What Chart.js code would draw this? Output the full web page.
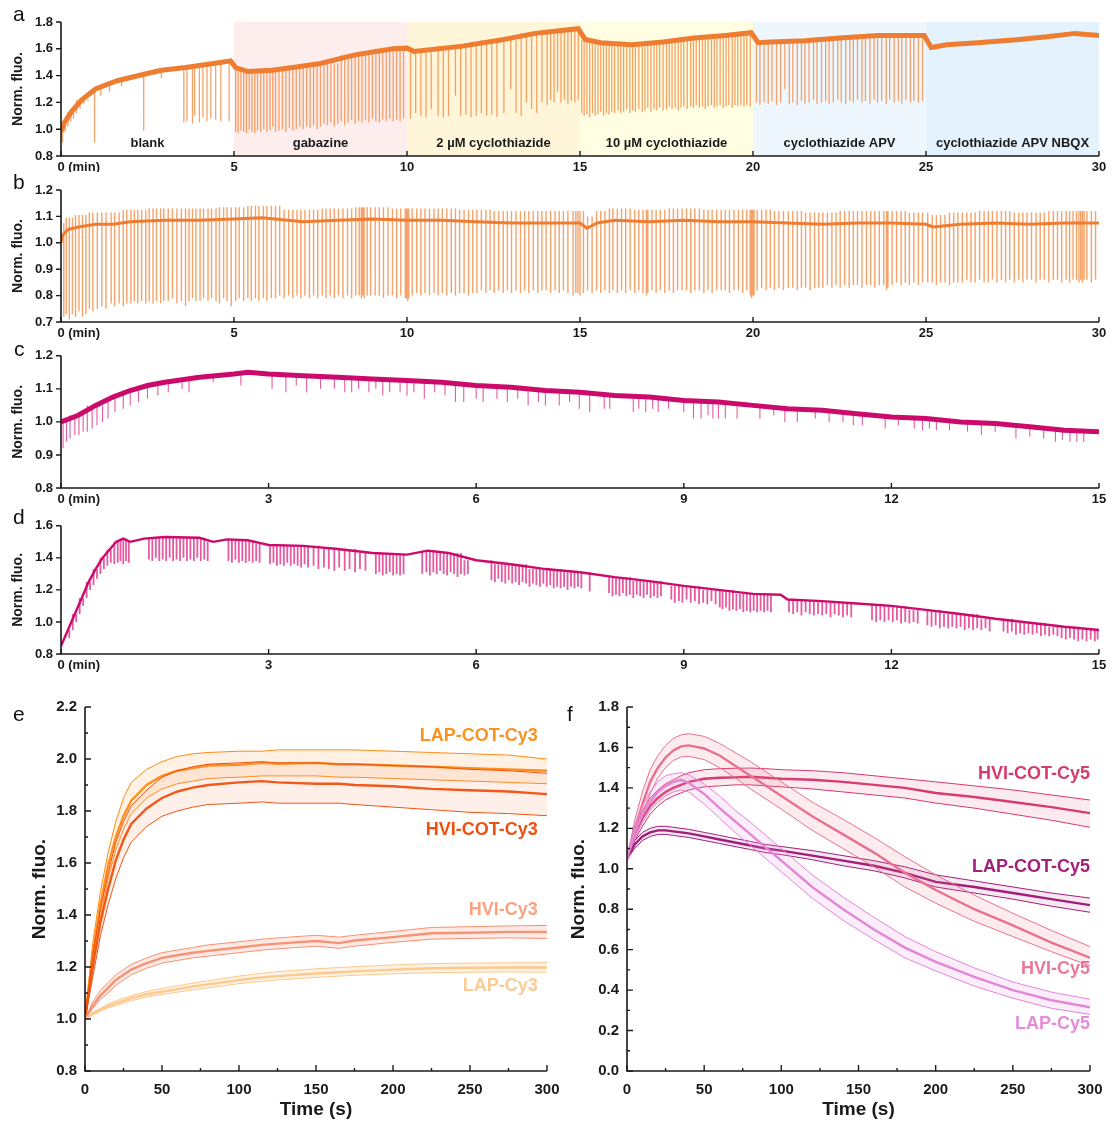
<!DOCTYPE html>
<html>
<head>
<meta charset="utf-8">
<script src="https://cdn.jsdelivr.net/npm/chart.js@4.4.0/dist/chart.umd.min.js"></script>
<style>
  body { margin: 0; background: #fff; width: 1113px; height: 1124px; position: relative; overflow: hidden;
         font-family: "Liberation Sans", Arial, sans-serif; }
  canvas { position: absolute; }
  .tag { position: absolute; font-size: 21px; color: #111; line-height: 1; }
</style>
</head>
<body>
<canvas id="ca" width="1113" height="172" style="left:0;top:0"></canvas>
<canvas id="cb" width="1113" height="172" style="left:0;top:172px"></canvas>
<canvas id="cc" width="1113" height="170" style="left:0;top:340px"></canvas>
<canvas id="cd" width="1113" height="172" style="left:0;top:510px"></canvas>
<canvas id="ce" width="575" height="434" style="left:0;top:690px"></canvas>
<canvas id="cf" width="568" height="434" style="left:545px;top:690px"></canvas>
<div class="tag" style="left:13px;top:3px">a</div>
<div class="tag" style="left:13px;top:171px">b</div>
<div class="tag" style="left:14px;top:338px">c</div>
<div class="tag" style="left:13px;top:506px">d</div>
<div class="tag" style="left:13px;top:703px">e</div>
<div class="tag" style="left:567px;top:703px">f</div>
<script>
// ── panel a: 30 min recording with drug phases ──
const aBaseT = [0, 0.1, 0.3, 0.6, 1, 1.6, 2.4, 2.9, 3.6, 4.4, 4.9, 5.05, 5.4, 6.1, 6.7, 7.5, 8.5, 9.6, 10, 10.2, 11.6, 12.7, 13.7, 14.4, 14.95, 15.15, 15.6, 16.5, 17.4, 18.3, 19.2, 19.95, 20.15, 20.5, 21.5, 22.5, 23.6, 24.3, 24.95, 25.15, 25.6, 26.5, 27.7, 28.5, 29.3, 30];
const aBaseY = [0.98, 1.05, 1.13, 1.22, 1.30, 1.36, 1.41, 1.44, 1.46, 1.49, 1.51, 1.46, 1.43, 1.44, 1.46, 1.49, 1.555, 1.60, 1.605, 1.58, 1.62, 1.665, 1.715, 1.735, 1.75, 1.67, 1.645, 1.63, 1.65, 1.68, 1.70, 1.72, 1.645, 1.65, 1.66, 1.68, 1.70, 1.70, 1.70, 1.61, 1.63, 1.645, 1.67, 1.69, 1.715, 1.70];
const aSpikes = [
  [0.04,0.90],[0.12,0.98],[0.2,1.02],[0.28,1.06],[0.36,1.08],[0.45,1.12],[0.55,1.15],[0.66,1.19],[0.78,1.21],[0.97,0.90],
  [1.15,1.25],[1.4,1.28],[1.75,1.32],[2.39,0.99],[2.9,1.38],[3.55,1.05],[3.64,1.06],[3.8,1.04],[3.86,1.10],[4.0,1.05],
  [4.1,1.09],[4.22,1.06],[4.33,1.08],[4.47,1.07],[4.62,1.06],[4.86,1.06],
  [5.05,0.98],[5.12,0.97],[5.2,0.99],[5.28,0.98],[5.36,0.97],[5.44,1.0],[5.52,0.98],[5.6,0.97],[5.68,0.99],[5.77,0.98],
  [5.86,1.0],[5.95,0.98],[6.04,0.99],[6.12,1.02],[6.2,0.98],[6.3,0.99],[6.4,1.0],[6.5,0.98],[6.6,1.01],[6.7,0.99],
  [6.8,1.0],[6.9,1.02],[7.0,1.0],[7.1,1.02],[7.2,1.01],[7.3,1.03],[7.4,1.0],[7.5,1.02],[7.6,1.04],[7.7,1.03],
  [7.8,1.05],[7.9,1.02],[8.0,1.04],[8.1,1.06],[8.2,1.03],[8.3,1.05],[8.4,1.07],[8.5,1.04],[8.6,1.06],[8.7,1.05],
  [8.8,1.07],[8.9,1.05],[9.0,1.08],[9.1,1.06],[9.2,1.05],[9.3,1.07],[9.4,1.06],[9.5,1.08],[9.6,1.06],[9.7,1.07],
  [9.8,1.06],[9.9,1.08],
  [10.1,1.08],[10.25,1.12],[10.4,1.10],[10.55,1.09],[10.7,1.15],[10.9,1.10],[11.05,1.09],[11.2,1.10],[11.4,1.25],[11.55,1.10],
  [11.7,1.11],[11.85,1.09],[12.0,1.10],[12.15,1.12],[12.3,1.10],[12.45,1.11],[12.6,1.09],[12.8,1.12],[13.0,1.30],[13.15,1.12],
  [13.3,1.10],[13.45,1.20],[13.6,1.15],[13.75,1.12],[13.9,1.20],[14.05,1.18],[14.15,1.22],[14.25,1.20],[14.35,1.28],[14.45,1.20],
  [14.55,1.22],[14.65,1.19],[14.75,1.21],[14.85,1.20],[14.95,1.22],
  [15.05,1.12],[15.12,1.10],[15.2,1.11],[15.28,1.09],[15.36,1.12],[15.44,1.10],[15.52,1.11],[15.6,1.13],[15.68,1.10],[15.76,1.12],
  [15.84,1.11],[15.92,1.13],[16.0,1.12],[16.1,1.14],[16.18,1.12],[16.26,1.13],[16.35,1.15],[16.44,1.12],[16.52,1.14],[16.6,1.13],
  [16.7,1.15],[16.8,1.13],[16.88,1.14],[16.96,1.16],[17.05,1.13],[17.14,1.15],[17.22,1.14],[17.3,1.16],[17.4,1.14],[17.5,1.15],
  [17.58,1.17],[17.66,1.15],[17.75,1.16],[17.84,1.14],[17.92,1.16],[18.0,1.17],[18.1,1.15],[18.2,1.17],[18.28,1.16],[18.36,1.18],
  [18.45,1.16],[18.54,1.17],[18.62,1.15],[18.7,1.17],[18.8,1.18],[18.88,1.16],[18.96,1.17],[19.05,1.18],[19.14,1.16],[19.22,1.17],
  [19.3,1.18],[19.4,1.16],[19.48,1.18],[19.56,1.17],[19.65,1.18],[19.74,1.17],[19.82,1.18],[19.92,1.17],
  [20.1,1.20],[20.2,1.18],[20.32,1.20],[20.44,1.19],[20.55,1.21],[20.68,1.18],[20.8,1.20],[20.92,1.30],[21.05,1.19],[21.15,1.20],
  [21.28,1.18],[21.4,1.21],[21.5,1.19],[21.62,1.20],[21.75,1.22],[21.85,1.19],[21.98,1.20],[22.1,1.21],[22.2,1.19],[22.32,1.20],
  [22.45,1.22],[22.55,1.20],[22.68,1.19],[22.8,1.21],[22.9,1.20],[23.02,1.22],[23.15,1.20],[23.25,1.21],[23.38,1.19],[23.5,1.22],
  [23.6,1.20],[23.72,1.21],[23.85,1.19],[23.95,1.22],[24.08,1.20],[24.2,1.21],[24.3,1.19],[24.42,1.22],[24.55,1.20],[24.65,1.21],
  [24.78,1.20],[24.9,1.21]
];
const aPhaseFrom = [0, 5, 10, 15, 20, 25];
const aPhaseTo = [5, 10, 15, 20, 25, 30];
const aPhaseName = ["blank", "gabazine", "2 \u00b5M cyclothiazide", "10 \u00b5M cyclothiazide", "cyclothiazide APV", "cyclothiazide APV NBQX"];
const aPhaseFill = [null, "#fdeded", "#fff6da", "#fffde2", "#eff7fe", "#e3f2fd"];

// ── panel b ──
const bBaseT = [0, 0.05, 0.2, 0.5, 1, 1.5, 2, 3, 4, 5, 5.8, 7, 8, 9, 10, 11, 12, 13, 14, 15, 15.2, 15.5, 16, 17, 18, 19, 20, 21, 22, 23, 24, 25, 25.2, 26, 27, 28, 29, 30];
const bBaseY = [1.0, 1.03, 1.05, 1.06, 1.07, 1.07, 1.08, 1.085, 1.085, 1.09, 1.095, 1.08, 1.085, 1.09, 1.085, 1.085, 1.08, 1.075, 1.075, 1.075, 1.055, 1.075, 1.085, 1.08, 1.085, 1.08, 1.08, 1.075, 1.07, 1.075, 1.075, 1.07, 1.06, 1.07, 1.075, 1.07, 1.075, 1.075];
const bSpikes = [
  [0.08,0.72],[0.15,0.73],[0.24,0.71],[0.33,0.73],[0.42,0.72],[0.52,0.74],[0.62,0.72],[0.72,0.73],[0.82,0.75],[0.92,0.74],
  [1.05,0.75],[1.18,0.76],[1.3,0.75],[1.45,0.77],[1.55,0.76],[1.68,0.77],[1.8,0.76],[1.9,0.77],
  [2.02,0.77],[2.12,0.78],[2.22,0.77],[2.33,0.78],[2.45,0.77],[2.55,0.78],[2.66,0.77],[2.76,0.78],[2.88,0.77],[2.97,0.78],
  [3.1,0.78],[3.22,0.79],[3.35,0.77],[3.48,0.78],[3.6,0.76],[3.7,0.78],[3.8,0.79],[3.9,0.78],
  [4.02,0.78],[4.12,0.79],[4.25,0.78],[4.35,0.79],[4.48,0.78],[4.58,0.77],[4.7,0.79],[4.8,0.78],[4.92,0.76],
  [5.05,0.78],[5.15,0.79],[5.28,0.78],[5.4,0.79],[5.5,0.78],[5.62,0.79],[5.72,0.78],[5.85,0.79],[5.95,0.78],
  [6.08,0.79],[6.2,0.79],[6.32,0.80],[6.45,0.79],[6.58,0.80],[6.7,0.79],[6.82,0.80],[6.93,0.79],
  [7.05,0.80],[7.18,0.79],[7.3,0.80],[7.42,0.79],[7.55,0.80],[7.66,0.79],[7.78,0.80],[7.9,0.79],
  [8.02,0.80],[8.15,0.79],[8.28,0.80],[8.4,0.79],[8.52,0.80],[8.62,0.80],[8.68,0.79],[8.72,0.80],[8.76,0.79],[8.85,0.80],[8.95,0.80],
  [9.08,0.80],[9.2,0.80],[9.32,0.79],[9.45,0.80],[9.58,0.80],[9.7,0.79],[9.82,0.80],[9.95,0.79],[9.98,0.79],[10.02,0.78],
  [10.05,0.79],[10.15,0.80],[10.28,0.81],[10.4,0.80],[10.52,0.81],[10.65,0.80],[10.78,0.81],[10.9,0.80],
  [11.02,0.81],[11.15,0.80],[11.28,0.81],[11.4,0.80],[11.52,0.81],[11.65,0.81],[11.78,0.80],[11.9,0.81],
  [12.02,0.81],[12.15,0.82],[12.28,0.81],[12.4,0.82],[12.52,0.81],[12.65,0.82],[12.78,0.81],[12.9,0.82],
  [13.02,0.81],[13.15,0.82],[13.28,0.81],[13.4,0.82],[13.52,0.81],[13.65,0.82],[13.78,0.81],[13.9,0.82],
  [14.02,0.82],[14.15,0.81],[14.28,0.82],[14.4,0.81],[14.52,0.82],[14.65,0.81],[14.8,0.80],[14.88,0.81],[14.94,0.81],[15.0,0.80],
  [15.1,0.81],[15.22,0.82],[15.35,0.81],[15.48,0.82],[15.6,0.81],[15.72,0.82],[15.85,0.81],[15.95,0.82],
  [16.08,0.81],[16.2,0.82],[16.32,0.81],[16.45,0.82],[16.58,0.81],[16.7,0.82],[16.82,0.81],[16.92,0.80],[16.96,0.81],
  [17.08,0.82],[17.2,0.81],[17.32,0.82],[17.45,0.81],[17.58,0.82],[17.7,0.81],[17.82,0.82],[17.95,0.82],
  [18.08,0.82],[18.2,0.81],[18.32,0.82],[18.45,0.82],[18.58,0.81],[18.7,0.82],[18.82,0.81],[18.95,0.82],
  [19.08,0.82],[19.2,0.82],[19.32,0.81],[19.45,0.82],[19.58,0.82],[19.7,0.81],[19.82,0.82],[19.92,0.80],[19.96,0.79],[20.0,0.80],[20.03,0.80],
  [20.12,0.82],[20.25,0.83],[20.38,0.82],[20.5,0.83],[20.62,0.82],[20.75,0.83],[20.88,0.82],
  [21.02,0.83],[21.15,0.83],[21.28,0.82],[21.4,0.83],[21.52,0.83],[21.65,0.82],[21.78,0.83],[21.9,0.83],
  [22.02,0.83],[22.15,0.84],[22.28,0.83],[22.4,0.84],[22.52,0.83],[22.65,0.84],[22.78,0.83],[22.9,0.84],
  [23.02,0.84],[23.15,0.83],[23.28,0.84],[23.4,0.84],[23.52,0.83],[23.65,0.84],[23.78,0.84],[23.86,0.82],[23.9,0.83],
  [24.02,0.84],[24.15,0.85],[24.28,0.84],[24.4,0.85],[24.52,0.84],[24.65,0.85],[24.78,0.84],[24.9,0.85],
  [25.05,0.85],[25.18,0.85],[25.3,0.84],[25.42,0.85],[25.55,0.85],[25.68,0.84],[25.8,0.85],[25.92,0.85],
  [26.05,0.85],[26.18,0.86],[26.3,0.85],[26.42,0.85],[26.55,0.86],[26.68,0.85],[26.8,0.85],[26.92,0.86],
  [27.05,0.85],[27.18,0.86],[27.3,0.85],[27.42,0.86],[27.55,0.85],[27.68,0.86],[27.8,0.85],[27.92,0.86],
  [28.05,0.86],[28.18,0.85],[28.3,0.86],[28.42,0.86],[28.55,0.85],[28.68,0.86],[28.8,0.86],[28.92,0.85],
  [29.05,0.86],[29.15,0.85],[29.25,0.86],[29.35,0.86],[29.42,0.85],[29.47,0.86],[29.52,0.85],[29.57,0.86],[29.65,0.86],[29.78,0.85],[29.9,0.86]
];

// ── panel c ──
const cBaseT = [0, 0.25, 0.5, 0.75, 1, 1.25, 1.5, 2, 2.5, 2.7, 3, 3.5, 4, 4.5, 5, 5.5, 6, 6.5, 7, 7.5, 8, 8.5, 9, 9.5, 10, 10.5, 11, 11.5, 12, 12.5, 13, 13.5, 14, 14.5, 15];
const cBaseY = [1.0, 1.02, 1.05, 1.075, 1.095, 1.11, 1.12, 1.135, 1.145, 1.15, 1.145, 1.14, 1.135, 1.13, 1.125, 1.12, 1.11, 1.105, 1.095, 1.09, 1.08, 1.075, 1.065, 1.06, 1.05, 1.04, 1.035, 1.025, 1.015, 1.01, 1.0, 0.995, 0.985, 0.975, 0.97];
const cSpikes = [
  [0.03,0.92],[0.08,0.94],[0.13,0.95],[0.2,0.96],[0.26,0.96],[0.32,0.97],[0.38,0.97],[0.45,0.98],[0.52,0.99],[0.6,1.0],
  [0.68,1.01],[0.78,1.03],[0.9,1.04],[1.0,1.05],[1.12,1.06],[1.25,1.07],[1.4,1.08],[1.55,1.09],[1.75,1.10],[1.85,1.09],
  [2.2,1.12],[2.6,1.11],[3.05,1.10],[3.25,1.09],[3.4,1.11],[3.55,1.09],[3.75,1.10],[3.95,1.10],[4.1,1.09],[4.2,1.09],
  [4.3,1.10],[4.45,1.09],[4.55,1.10],[4.65,1.08],[4.75,1.09],[4.9,1.09],[5.0,1.08],[5.1,1.09],[5.25,1.07],[5.4,1.09],
  [5.55,1.08],[5.7,1.06],[5.82,1.06],[6.0,1.07],[6.1,1.06],[6.3,1.07],[6.45,1.06],[6.6,1.07],[6.75,1.05],[6.9,1.06],
  [7.0,1.05],[7.2,1.05],[7.35,1.06],[7.49,1.04],[7.64,1.03],[7.85,1.04],[7.93,1.04],[8.27,1.03],[8.35,1.04],[8.45,1.03],
  [8.55,1.04],[8.63,1.03],[8.78,1.04],[9.0,1.03],[9.14,1.01],[9.25,1.01],[9.35,1.02],[9.42,1.01],[9.5,1.01],[9.6,1.01],
  [9.77,1.01],[10.1,1.01],[10.3,1.02],[10.46,1.0],[10.64,1.0],[10.9,1.01],[11.1,1.0],[11.3,1.0],[11.45,0.99],[11.58,0.99],
  [11.91,0.98],[12.1,0.99],[12.33,0.98],[12.45,0.975],[12.55,0.98],[12.65,0.975],[12.84,0.975],[13.1,0.97],[13.3,0.96],[13.5,0.97],
  [13.8,0.95],[14.0,0.955],[14.2,0.95],[14.37,0.94],[14.47,0.945],[14.58,0.94],[14.68,0.94],[14.78,0.94]
];

// ── panel d ──
const dBaseT = [0, 0.1, 0.2, 0.3, 0.4, 0.5, 0.6, 0.7, 0.8, 0.9, 1.0, 1.2, 1.5, 2.0, 2.2, 2.4, 2.7, 2.9, 3.0, 3.5, 4.0, 4.5, 5.0, 5.3, 5.6, 6, 6.5, 7, 7.5, 8, 8.5, 9, 9.5, 10, 10.4, 10.5, 11, 11.5, 12, 12.5, 13, 13.5, 14, 14.5, 15];
const dBaseY = [0.85, 0.95, 1.05, 1.15, 1.25, 1.33, 1.40, 1.45, 1.50, 1.52, 1.50, 1.52, 1.53, 1.525, 1.50, 1.515, 1.51, 1.49, 1.48, 1.475, 1.455, 1.43, 1.42, 1.445, 1.43, 1.385, 1.36, 1.33, 1.31, 1.28, 1.255, 1.225, 1.20, 1.175, 1.17, 1.14, 1.13, 1.115, 1.10, 1.075, 1.05, 1.02, 0.995, 0.97, 0.95];
const dSpikes = [
  [0.12,0.9],[0.17,0.95],[0.22,1.0],[0.27,1.05],[0.32,1.1],[0.37,1.15],[0.42,1.2],[0.47,1.23],[0.52,1.27],[0.57,1.3],
  [0.62,1.33],[0.67,1.35],[0.72,1.37],[0.77,1.36],[0.82,1.37],[0.86,1.38],[0.9,1.36],[0.94,1.38],[0.98,1.37],
  [1.27,1.39],[1.32,1.38],[1.37,1.40],[1.42,1.38],[1.47,1.39],[1.52,1.38],[1.57,1.40],[1.62,1.38],[1.67,1.39],[1.72,1.38],
  [1.77,1.40],[1.82,1.38],[1.87,1.39],[1.92,1.38],[1.97,1.40],[2.02,1.38],[2.07,1.39],[2.12,1.38],
  [2.42,1.38],[2.47,1.37],[2.52,1.39],[2.57,1.37],[2.62,1.38],[2.67,1.37],[2.72,1.38],[2.77,1.37],[2.82,1.38],[2.87,1.37],
  [3.02,1.36],[3.07,1.37],[3.12,1.35],[3.17,1.36],[3.22,1.35],[3.27,1.37],[3.32,1.35],[3.37,1.36],[3.42,1.35],[3.47,1.34],[3.52,1.36],[3.57,1.34],
  [3.65,1.35],[3.72,1.33],[3.8,1.34],[3.87,1.33],[3.95,1.32],[4.02,1.34],[4.1,1.32],[4.17,1.33],[4.25,1.31],[4.32,1.33],[4.4,1.32],
  [4.55,1.30],[4.6,1.31],[4.65,1.29],[4.7,1.30],[4.75,1.31],[4.8,1.29],[4.85,1.30],[4.9,1.29],[4.95,1.30],
  [5.22,1.30],[5.28,1.31],[5.33,1.29],[5.38,1.31],[5.43,1.30],[5.48,1.32],[5.53,1.30],[5.58,1.29],[5.63,1.31],[5.68,1.30],[5.73,1.28],[5.78,1.30],[5.83,1.29],[5.88,1.30],
  [6.22,1.26],[6.27,1.25],[6.32,1.27],[6.37,1.25],[6.42,1.24],[6.47,1.26],[6.52,1.24],[6.57,1.25],[6.62,1.23],[6.67,1.25],
  [6.72,1.24],[6.77,1.22],[6.82,1.24],[6.87,1.23],[6.92,1.22],[6.97,1.24],[7.02,1.22],[7.07,1.23],[7.12,1.21],[7.17,1.22],
  [7.22,1.21],[7.27,1.22],[7.32,1.20],[7.37,1.22],[7.42,1.21],[7.47,1.22],[7.52,1.21],[7.64,1.19],
  [7.92,1.18],[7.97,1.16],[8.02,1.17],[8.07,1.16],[8.12,1.18],[8.17,1.16],[8.22,1.17],[8.27,1.15],[8.32,1.17],[8.37,1.16],
  [8.42,1.15],[8.47,1.17],[8.52,1.15],[8.57,1.16],[8.62,1.15],[8.67,1.16],
  [8.82,1.14],[8.87,1.12],[8.93,1.13],[8.98,1.12],[9.04,1.14],[9.1,1.12],[9.16,1.13],[9.22,1.11],[9.28,1.12],[9.34,1.11],[9.4,1.13],[9.46,1.11],
  [9.52,1.09],[9.56,1.08],[9.61,1.09],[9.66,1.07],[9.71,1.08],[9.76,1.07],[9.81,1.08],[9.86,1.06],[9.91,1.07],[9.96,1.06],
  [10.01,1.07],[10.06,1.06],[10.11,1.07],[10.16,1.06],[10.21,1.07],[10.26,1.06],
  [10.52,1.06],[10.58,1.05],[10.64,1.06],[10.7,1.04],[10.76,1.06],[10.82,1.05],[10.88,1.04],[10.94,1.05],[11.0,1.04],[11.06,1.05],
  [11.12,1.03],[11.18,1.05],[11.24,1.04],[11.3,1.03],[11.36,1.04],[11.42,1.03],
  [11.72,1.01],[11.78,1.00],[11.84,1.01],[11.9,1.00],[11.96,1.01],[12.02,1.0],[12.08,1.01],[12.14,0.99],[12.2,1.0],[12.26,0.99],[12.32,1.0],[12.38,0.99],
  [12.52,0.98],[12.58,0.97],[12.64,0.98],[12.7,0.96],[12.76,0.97],[12.82,0.96],[12.88,0.97],[12.94,0.96],[13.0,0.97],[13.06,0.95],
  [13.12,0.96],[13.18,0.95],[13.24,0.96],[13.3,0.95],[13.36,0.96],[13.42,0.94],
  [13.62,0.94],[13.68,0.93],[13.74,0.94],[13.8,0.92],[13.86,0.93],[13.92,0.92],[13.98,0.93],[14.04,0.92],[14.1,0.93],[14.16,0.91],
  [14.22,0.92],[14.28,0.91],[14.34,0.92],[14.4,0.91],[14.46,0.90],
  [14.52,0.89],[14.58,0.90],[14.64,0.89],[14.7,0.88],[14.76,0.89],[14.82,0.88],[14.88,0.89],[14.94,0.88],[14.98,0.89]
];

// ── panel e: Cy3 probes, mean with upper/lower SD ──
const eT = [0, 5, 10, 15, 20, 25, 30, 40, 50, 60, 70, 80, 100, 115, 125, 150, 165, 175, 200, 225, 250, 275, 300];
const eLapCotMean = [1.0, 1.25, 1.44, 1.59, 1.70, 1.78, 1.84, 1.90, 1.935, 1.955, 1.965, 1.975, 1.978, 1.985, 1.982, 1.985, 1.98, 1.98, 1.975, 1.97, 1.965, 1.96, 1.955];
const eLapCotHi = [1.0, 1.29, 1.49, 1.64, 1.76, 1.85, 1.91, 1.96, 1.99, 2.01, 2.02, 2.025, 2.03, 2.03, 2.035, 2.035, 2.035, 2.035, 2.03, 2.025, 2.02, 2.015, 2.0];
const eLapCotLo = [1.0, 1.21, 1.39, 1.54, 1.65, 1.73, 1.79, 1.85, 1.885, 1.905, 1.915, 1.925, 1.93, 1.935, 1.935, 1.935, 1.93, 1.93, 1.925, 1.92, 1.915, 1.91, 1.905];
const eHviCotMean = [1.0, 1.20, 1.37, 1.50, 1.61, 1.69, 1.75, 1.81, 1.85, 1.875, 1.89, 1.90, 1.91, 1.915, 1.91, 1.905, 1.905, 1.90, 1.895, 1.885, 1.88, 1.875, 1.865];
const eHviCotHi = [1.0, 1.24, 1.42, 1.56, 1.68, 1.76, 1.82, 1.88, 1.93, 1.955, 1.97, 1.98, 1.985, 1.99, 1.985, 1.985, 1.98, 1.98, 1.975, 1.97, 1.96, 1.955, 1.945];
const eHviCotLo = [1.0, 1.16, 1.32, 1.44, 1.54, 1.62, 1.68, 1.74, 1.78, 1.80, 1.815, 1.825, 1.83, 1.835, 1.83, 1.83, 1.83, 1.825, 1.815, 1.805, 1.795, 1.79, 1.782];
const eHviMean = [1.0, 1.05, 1.09, 1.12, 1.15, 1.17, 1.19, 1.215, 1.235, 1.245, 1.255, 1.262, 1.275, 1.285, 1.29, 1.30, 1.292, 1.302, 1.315, 1.33, 1.332, 1.335, 1.335];
const eHviHi = [1.0, 1.065, 1.11, 1.14, 1.17, 1.19, 1.21, 1.235, 1.255, 1.265, 1.275, 1.285, 1.297, 1.307, 1.312, 1.322, 1.315, 1.322, 1.337, 1.352, 1.355, 1.358, 1.36];
const eHviLo = [1.0, 1.04, 1.075, 1.10, 1.13, 1.15, 1.17, 1.195, 1.215, 1.225, 1.235, 1.242, 1.255, 1.265, 1.27, 1.28, 1.272, 1.28, 1.295, 1.307, 1.31, 1.312, 1.31];
const eLapMean = [1.0, 1.02, 1.035, 1.05, 1.06, 1.07, 1.08, 1.095, 1.105, 1.115, 1.125, 1.133, 1.15, 1.16, 1.165, 1.175, 1.18, 1.183, 1.19, 1.195, 1.197, 1.198, 1.198];
const eLapHi = [1.0, 1.025, 1.042, 1.058, 1.07, 1.08, 1.09, 1.106, 1.117, 1.128, 1.138, 1.147, 1.165, 1.176, 1.182, 1.193, 1.198, 1.201, 1.208, 1.213, 1.215, 1.216, 1.217];
const eLapLo = [1.0, 1.015, 1.03, 1.043, 1.052, 1.061, 1.07, 1.085, 1.094, 1.103, 1.112, 1.12, 1.136, 1.145, 1.15, 1.16, 1.165, 1.168, 1.174, 1.178, 1.18, 1.181, 1.18];
const eNames = ["LAP-COT-Cy3", "HVI-COT-Cy3", "HVI-Cy3", "LAP-Cy3"];
const eNameY = [2.087, 1.725, 1.419, 1.125];
const eNameX = 294;

// ── panel f: Cy5 probes ──
const fT = [0, 5, 10, 15, 20, 25, 30, 35, 40, 50, 60, 70, 80, 90, 100, 120, 140, 160, 180, 200, 225, 250, 275, 300];
const fHviMean = [1.05, 1.20, 1.32, 1.43, 1.50, 1.55, 1.585, 1.605, 1.61, 1.595, 1.56, 1.51, 1.46, 1.41, 1.36, 1.26, 1.17, 1.08, 0.98, 0.895, 0.80, 0.72, 0.635, 0.56];
const fHviHi = [1.05, 1.24, 1.38, 1.49, 1.56, 1.61, 1.645, 1.662, 1.668, 1.655, 1.62, 1.575, 1.53, 1.48, 1.43, 1.33, 1.245, 1.155, 1.06, 0.97, 0.87, 0.78, 0.695, 0.615];
const fHviLo = [1.05, 1.16, 1.27, 1.37, 1.45, 1.50, 1.535, 1.553, 1.556, 1.54, 1.50, 1.45, 1.395, 1.345, 1.295, 1.19, 1.10, 1.01, 0.91, 0.83, 0.74, 0.665, 0.59, 0.52];
const fHviCotMean = [1.05, 1.17, 1.25, 1.31, 1.35, 1.38, 1.40, 1.415, 1.43, 1.445, 1.45, 1.452, 1.455, 1.45, 1.445, 1.44, 1.43, 1.415, 1.40, 1.375, 1.355, 1.33, 1.305, 1.275];
const fHviCotHi = [1.05, 1.20, 1.29, 1.35, 1.39, 1.42, 1.44, 1.46, 1.475, 1.49, 1.495, 1.497, 1.498, 1.495, 1.49, 1.485, 1.475, 1.46, 1.445, 1.43, 1.41, 1.39, 1.365, 1.34];
const fHviCotLo = [1.05, 1.14, 1.21, 1.27, 1.31, 1.34, 1.36, 1.375, 1.39, 1.405, 1.41, 1.415, 1.415, 1.41, 1.405, 1.395, 1.38, 1.365, 1.35, 1.325, 1.30, 1.27, 1.24, 1.205];
const fLapCotMean = [1.05, 1.12, 1.16, 1.18, 1.19, 1.19, 1.185, 1.18, 1.175, 1.16, 1.145, 1.13, 1.115, 1.10, 1.09, 1.065, 1.04, 1.015, 0.98, 0.935, 0.91, 0.88, 0.85, 0.82];
const fLapCotHi = [1.05, 1.14, 1.18, 1.20, 1.21, 1.21, 1.205, 1.20, 1.195, 1.18, 1.165, 1.15, 1.135, 1.12, 1.11, 1.09, 1.065, 1.04, 1.01, 0.97, 0.94, 0.91, 0.88, 0.855];
const fLapCotLo = [1.05, 1.10, 1.14, 1.16, 1.17, 1.17, 1.165, 1.16, 1.155, 1.14, 1.125, 1.11, 1.095, 1.08, 1.07, 1.045, 1.015, 0.99, 0.955, 0.91, 0.88, 0.85, 0.815, 0.785];
const fLapMean = [1.05, 1.18, 1.27, 1.33, 1.38, 1.41, 1.43, 1.44, 1.425, 1.37, 1.30, 1.235, 1.17, 1.105, 1.04, 0.91, 0.80, 0.70, 0.61, 0.54, 0.465, 0.40, 0.35, 0.315];
const fLapHi = [1.05, 1.21, 1.31, 1.38, 1.43, 1.46, 1.47, 1.475, 1.465, 1.42, 1.36, 1.29, 1.23, 1.165, 1.10, 0.97, 0.86, 0.76, 0.665, 0.59, 0.51, 0.44, 0.39, 0.355];
const fLapLo = [1.05, 1.15, 1.23, 1.29, 1.33, 1.36, 1.38, 1.39, 1.38, 1.32, 1.25, 1.18, 1.115, 1.05, 0.985, 0.855, 0.745, 0.65, 0.56, 0.495, 0.42, 0.36, 0.31, 0.28];
const fNames = ["HVI-COT-Cy5", "LAP-COT-Cy5", "HVI-Cy5", "LAP-Cy5"];
const fNameY = [1.47, 1.01, 0.504, 0.232];
const fNameX = 300;

// ── shared setup ──
const FONT = "'Liberation Sans', Arial, Helvetica, sans-serif";
Chart.defaults.font.family = FONT;
Chart.defaults.color = "#1a1a1a";
Chart.defaults.animation = false;
Chart.defaults.plugins.legend.display = false;
Chart.defaults.plugins.tooltip.enabled = false;
Chart.defaults.elements.point.radius = 0;

const pts = (xs, ys) => xs.map((x, i) => ({ x, y: ys[i] }));

// each spike is a vertical stroke from its minimum up to the trace at the nearest sample
function spikePts(spikes, baseT, baseY, lift) {
  const out = [];
  for (const [t, lo] of spikes) {
    let k = 0;
    for (let i = 1; i < baseT.length; i++) {
      if (Math.abs(baseT[i] - t) < Math.abs(baseT[k] - t)) k = i;
    }
    out.push({ x: t, y: lo }, { x: t, y: baseY[k] + lift }, { x: t, y: null });
  }
  return out;
}

// axis lines, inward/outward ticks, phase shading and in-plot text
const decor = {
  id: "decor",
  beforeDatasetsDraw(chart, args, o) {
    if (!o.bands) return;
    const { ctx, chartArea: ca, scales: { x } } = chart;
    ctx.save();
    o.bands.forEach((b) => {
      if (!b.fill) return;
      const x0 = x.getPixelForValue(b.from), x1 = x.getPixelForValue(b.to);
      ctx.fillStyle = b.fill;
      ctx.fillRect(x0, ca.top, x1 - x0, ca.bottom - ca.top);
    });
    ctx.restore();
  },
  afterDraw(chart, args, o) {
    const { ctx, chartArea: ca, scales: { x, y } } = chart;
    ctx.save();
    ctx.strokeStyle = "#1a1a1a";
    ctx.lineWidth = 1.6;
    ctx.beginPath();
    ctx.moveTo(ca.left, ca.top);
    ctx.lineTo(ca.left, ca.bottom);
    ctx.lineTo(ca.right, ca.bottom);
    ctx.stroke();

    ctx.lineWidth = 1.4;
    ctx.beginPath();
    x.ticks.forEach((t) => {
      const px = x.getPixelForValue(t.value);
      const len = t.label === "" ? o.minor : o.major;
      ctx.moveTo(px, ca.bottom);
      ctx.lineTo(px, ca.bottom - len);
    });
    y.ticks.forEach((t) => {
      const py = y.getPixelForValue(t.value);
      const len = t.label === "" ? o.minor : o.major;
      ctx.moveTo(ca.left, py);
      ctx.lineTo(ca.left + (o.yIn ? len : -len), py);
    });
    ctx.stroke();

    if (o.bands) {
      ctx.fillStyle = "#1a1a1a";
      ctx.font = "bold 13px " + FONT;
      ctx.textAlign = "center";
      ctx.textBaseline = "middle";
      o.bands.forEach((b) => {
        ctx.fillText(b.name, x.getPixelForValue((b.from + b.to) / 2), ca.bottom - 13);
      });
    }

    if (o.minSuffix) {
      const f = x.options.ticks.font;
      ctx.font = "bold " + f.size + "px " + FONT;
      ctx.fillStyle = "#1a1a1a";
      ctx.textAlign = "left";
      ctx.textBaseline = "middle";
      const x0 = x.getPixelForValue(0) + ctx.measureText("0").width / 2;
      ctx.fillText(" (min)", x0, x.top + x.options.ticks.padding + f.size * 0.6);
    }

    if (o.names) {
      ctx.font = "bold 18px " + FONT;
      ctx.textAlign = "right";
      ctx.textBaseline = "middle";
      o.names.forEach((n, i) => {
        ctx.fillStyle = o.nameColors[i];
        ctx.fillText(n, x.getPixelForValue(o.nameX), y.getPixelForValue(o.nameY[i]));
      });
    }
    ctx.restore();
  }
};

function traceChart(id, c) {
  return new Chart(document.getElementById(id), {
    type: "line",
    data: {
      datasets: [
        { data: pts(c.baseT, c.baseY), borderColor: c.color, borderWidth: c.lineW, tension: 0, order: 0 },
        { data: spikePts(c.spikes, c.baseT, c.baseY, c.lift), borderColor: c.spikeColor, borderWidth: c.spikeW,
          spanGaps: false, order: 1 }
      ]
    },
    options: {
      responsive: false,
      layout: { padding: { top: c.top, right: 14, left: 0, bottom: 0 } },
      scales: {
        x: {
          type: "linear", min: 0, max: c.xMax, offset: false,
          grid: { display: false, drawTicks: false }, border: { display: false },
          ticks: { stepSize: c.xStep, padding: 4, autoSkip: false, maxRotation: 0,
                   font: { size: 13, weight: "bold" }, callback: (v) => String(v) },
          afterFit: (s) => { s.height = c.xH; }
        },
        y: {
          min: c.yMin, max: c.yMax,
          grid: { display: false, drawTicks: false }, border: { display: false },
          ticks: { stepSize: c.yStep, padding: 8, font: { size: 13, weight: "bold" },
                   callback: (v) => v.toFixed(1) },
          title: { display: true, text: "Norm. fluo.", font: { size: 14, weight: "bold" },
                   padding: { top: 10, bottom: 0 } },
          afterFit: (s) => { s.width = 61; }
        }
      },
      plugins: { decor: { major: 5, minor: 3, yIn: false, minSuffix: true, bands: c.bands } }
    },
    plugins: [decor]
  });
}

const ORANGE = "#ee7d32", ORANGE_SPIKE = "rgba(242,140,70,0.8)";
const MAGENTA = "#cc0a6c", MAGENTA_SPIKE = "rgba(222,50,135,0.8)";

traceChart("ca", {
  baseT: aBaseT, baseY: aBaseY, spikes: aSpikes, lift: 0, color: ORANGE, spikeColor: ORANGE_SPIKE, lineW: 5, spikeW: 1.3,
  top: 22, xH: 172 - 156, xMax: 30, xStep: 5, yMin: 0.8, yMax: 1.8, yStep: 0.2,
  bands: aPhaseName.map((name, i) => ({ name, from: aPhaseFrom[i], to: aPhaseTo[i], fill: aPhaseFill[i] }))
});
traceChart("cb", {
  baseT: bBaseT, baseY: bBaseY, spikes: bSpikes, lift: 0.045, color: ORANGE, spikeColor: ORANGE_SPIKE, lineW: 3, spikeW: 1.4,
  top: 190 - 172, xH: 172 - (322 - 172), xMax: 30, xStep: 5, yMin: 0.7, yMax: 1.2, yStep: 0.1
});
traceChart("cc", {
  baseT: cBaseT, baseY: cBaseY, spikes: cSpikes, lift: 0, color: MAGENTA, spikeColor: MAGENTA_SPIKE, lineW: 5, spikeW: 1.1,
  top: 355 - 340, xH: 170 - (488 - 340), xMax: 15, xStep: 3, yMin: 0.8, yMax: 1.2, yStep: 0.1
});
traceChart("cd", {
  baseT: dBaseT, baseY: dBaseY, spikes: dSpikes, lift: 0, color: MAGENTA, spikeColor: MAGENTA_SPIKE, lineW: 2.4, spikeW: 1.8,
  top: 522 - 510, xH: 172 - (654 - 510), xMax: 15, xStep: 3, yMin: 0.8, yMax: 1.6, yStep: 0.2
});

// mean ± SD: upper line fills down to the lower line
function bandSets(t, hi, lo, mean, color, fill) {
  return [
    { data: pts(t, hi), borderColor: color, borderWidth: 1, fill: "+1", backgroundColor: fill },
    { data: pts(t, lo), borderColor: color, borderWidth: 1, fill: false },
    { data: pts(t, mean), borderColor: color, borderWidth: 2.4, fill: false }
  ];
}

function meanChart(id, c) {
  return new Chart(document.getElementById(id), {
    type: "line",
    data: { datasets: c.sets },
    options: {
      responsive: false,
      layout: { padding: { top: 10, right: c.padR, left: 0, bottom: 0 } },
      scales: {
        x: {
          type: "linear", min: 0, max: 300, offset: false,
          grid: { display: false, drawTicks: false }, border: { display: false },
          ticks: { stepSize: 25, padding: 10, autoSkip: false, maxRotation: 0,
                   font: { size: 15, weight: "bold" }, callback: (v) => (v % 50 === 0 ? String(v) : "") },
          title: { display: true, text: "Time (s)", font: { size: 19, weight: "bold" }, padding: { top: 0, bottom: 3 } },
          afterFit: (s) => { s.height = 53; }
        },
        y: {
          min: c.yMin, max: c.yMax,
          grid: { display: false, drawTicks: false }, border: { display: false },
          ticks: { stepSize: 0.1, padding: 8, autoSkip: false, font: { size: 15, weight: "bold" },
                   callback: (v) => (Math.round(v * 10) % 2 === 0 ? v.toFixed(1) : "") },
          title: { display: true, text: "Norm. fluo.", font: { size: 19, weight: "bold" },
                   padding: { top: c.titlePad, bottom: 0 } },
          afterFit: (s) => { s.width = c.yW; }
        }
      },
      plugins: { decor: { major: 6, minor: 3, yIn: true, names: c.names, nameY: c.nameY, nameX: c.nameX,
                          nameColors: c.nameColors } }
    },
    plugins: [decor]
  });
}

const E_COL = ["#ff8a12", "#f0500f", "#f79072", "#fcc98c"];
meanChart("ce", {
  padR: 28, yW: 85, titlePad: 28, yMin: 0.8, yMax: 2.2,
  names: eNames, nameY: eNameY, nameX: eNameX, nameColors: ["#f7931e", "#f0500f", "#f9a282", "#fccb94"],
  sets: [
    ...bandSets(eT, eLapHi, eLapLo, eLapMean, E_COL[3], "rgba(253,205,150,0.25)"),
    ...bandSets(eT, eHviHi, eHviLo, eHviMean, E_COL[2], "rgba(248,160,130,0.22)"),
    ...bandSets(eT, eHviCotHi, eHviCotLo, eHviCotMean, E_COL[1], "rgba(245,140,100,0.14)"),
    ...bandSets(eT, eLapCotHi, eLapCotLo, eLapCotMean, E_COL[0], "rgba(255,175,90,0.16)")
  ]
});

const F_COL = ["#d8386c", "#a01e7a", "#e8708f", "#e285d8"];
meanChart("cf", {
  padR: 23, yW: 82, titlePad: 22, yMin: 0, yMax: 1.8,
  names: fNames, nameY: fNameY, nameX: fNameX, nameColors: ["#d63b6c", "#a3207c", "#e8789a", "#e58bda"],
  sets: [
    ...bandSets(fT, fLapHi, fLapLo, fLapMean, F_COL[3], "rgba(230,140,220,0.16)"),
    ...bandSets(fT, fHviHi, fHviLo, fHviMean, F_COL[2], "rgba(235,120,150,0.14)"),
    ...bandSets(fT, fLapCotHi, fLapCotLo, fLapCotMean, F_COL[1], "rgba(170,40,130,0.10)"),
    ...bandSets(fT, fHviCotHi, fHviCotLo, fHviCotMean, F_COL[0], "rgba(220,80,120,0.12)")
  ]
});
</script>
</body>
</html>
